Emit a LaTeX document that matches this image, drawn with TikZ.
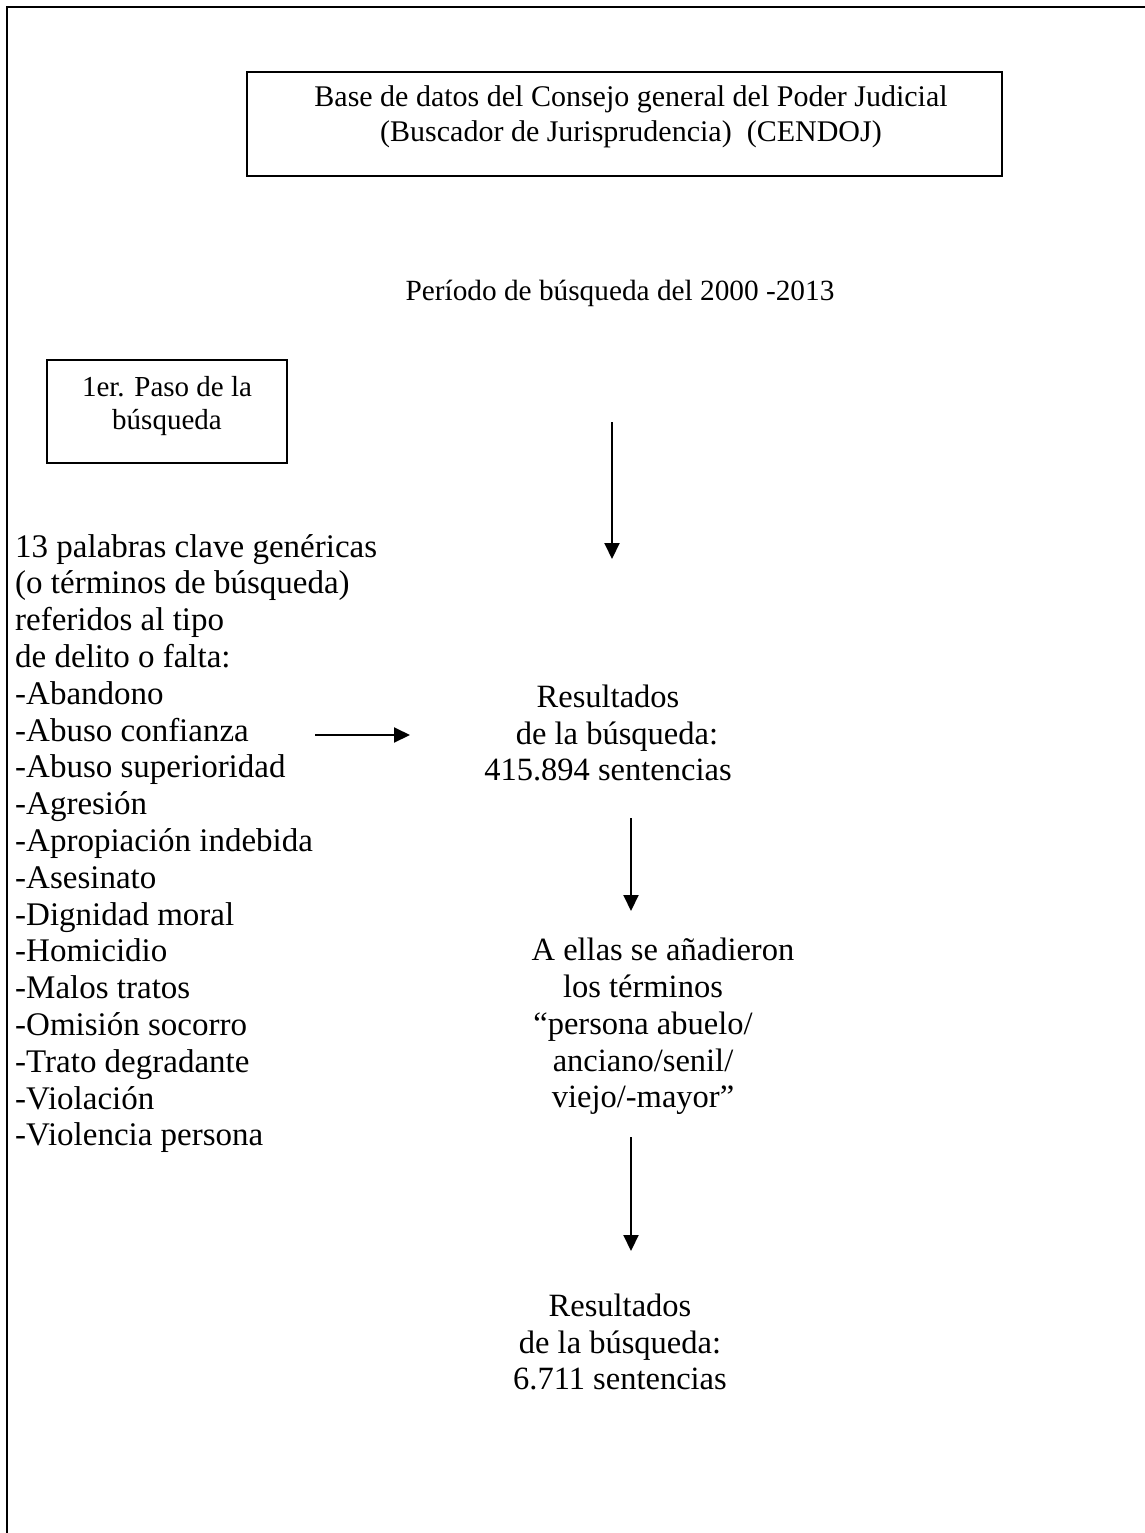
\documentclass[tikz,border=0pt]{standalone}
\usepackage{fontspec}
\setmainfont{Liberation Serif}
\usetikzlibrary{positioning}
\usetikzlibrary{arrows.meta}

\tikzset{
  caja/.style={draw=black,line width=1.6pt,inner sep=0pt},
  texto/.style={inner sep=0pt,align=center,font=\fontsize{30}{35}\selectfont},
  centro/.style={texto,font=\fontsize{32.5}{36.8}\selectfont},
  lista/.style={inner sep=0pt,align=left,font=\fontsize{33}{36.8}\selectfont},
  flecha/.style={line width=2pt,-{Triangle[length=16pt,width=15pt]}}
}

\begin{document}
\begin{tikzpicture}[x=1pt,y=-1pt]

\useasboundingbox (0,0) rectangle (1145,1533);

% page frame (open at right and bottom)
\draw[line width=2.5pt] (7,1533) -- (7,7) -- (1145,7);

% boxes
\node[caja,minimum width=755pt,minimum height=104pt] (basebox) at (624.5,124) {};
\node[texto] (base) at (631,117)
  {Base de datos del Consejo general del Poder Judicial\\(Buscador de Jurisprudencia)\ \ (CENDOJ)};

\node[texto,font=\fontsize{29.3}{35}\selectfont] (periodo) at (620,293) {Período de búsqueda del 2000 -2013};

\node[caja,minimum width=240pt,minimum height=103pt] (pasobox) at (167,411.5) {};
\node[texto,font=\fontsize{29}{33}\selectfont] (paso) at (167,406) {1er. Paso de la\\búsqueda};

% keyword list
\node[lista,anchor=north west] (palabras) at (15,534) {13 palabras clave genéricas\\
  (o términos de búsqueda)\\referidos al tipo\\de delito o falta:\\
  -Abandono\\-Abuso confianza\\-Abuso superioridad\\-Agresión\\
  -Apropiación indebida\\-Asesinato\\-Dignidad moral\\-Homicidio\\
  -Malos tratos\\-Omisión socorro\\-Trato degradante\\-Violación\\
  -Violencia persona};

% results
\node[centro] (res1) at (608,733)
  {Resultados\\\hspace*{18pt}de la búsqueda:\\415.894 sentencias};
\node[centro] (anadieron) at (643,1026.5)
  {\hspace*{40pt}A ellas se añadieron\\los términos\\“persona abuelo/\\anciano/senil/\\viejo/-mayor”};
\node[centro] (res2) at (620,1342)
  {Resultados\\de la búsqueda:\\6.711 sentencias};

% arrow ends
\coordinate (a1) at (612,422);
\coordinate (b1) at (612,559);
\coordinate (a2) at (315,735);
\coordinate (b2) at (410,735);
\coordinate (a3) at (631,818);
\coordinate (b3) at (631,911);
\coordinate (a4) at (631,1137);
\coordinate (b4) at (631,1251);

\draw[flecha] (a1) -- (b1);
\draw[flecha] (a2) -- (b2);
\draw[flecha] (a3) -- (b3);
\draw[flecha] (a4) -- (b4);

\end{tikzpicture}
\end{document}
